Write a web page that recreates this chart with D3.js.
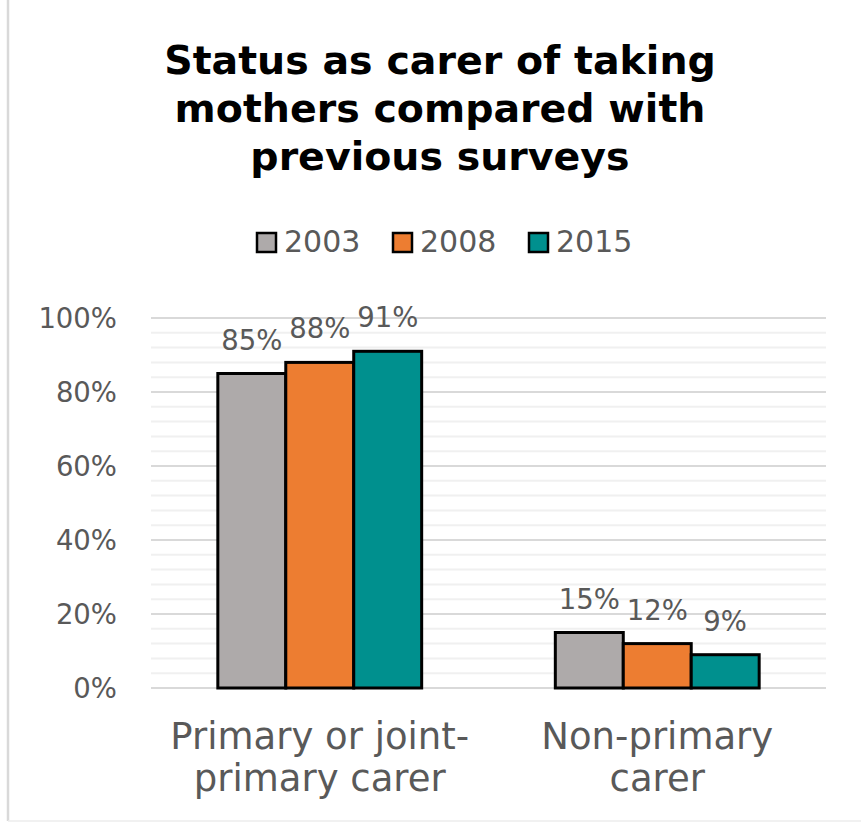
<!DOCTYPE html>
<html>
<head>
<meta charset="utf-8">
<script src="https://cdn.jsdelivr.net/npm/d3@7"></script>
<style>
  body { margin: 0; background: #fff; }
  svg { display: block; font-family: "DejaVu Sans", Verdana, sans-serif; }
</style>
</head>
<body>
<div id="chart"></div>
<script>
// data
const categories = [["Primary or joint-", "primary carer"], ["Non-primary", "carer"]]
const years = ["2003", "2008", "2015"]
const colors = ["#aeaaaa", "#ed7d31", "#00908e"]
const values = [
  [0.85, 0.88, 0.91],   // primary or joint-primary
  [0.15, 0.12, 0.09]    // non-primary
]
const yTicks = [0, 0.2, 0.4, 0.6, 0.8, 1]
const titleLines = ["Status as carer of taking", "mothers compared with", "previous surveys"]

const W = 861, H = 825
const svg = d3.select("#chart").append("svg").attr("width", W).attr("height", H)

// chart area frame (left and bottom edges visible)
svg.append("line").attr("x1", 8).attr("x2", 8).attr("y1", 0).attr("y2", 821)
   .attr("stroke", "#d9d9d9").attr("stroke-width", 2.5)
svg.append("line").attr("x1", 8).attr("x2", W).attr("y1", 821).attr("y2", 821)
   .attr("stroke", "#ececec").attr("stroke-width", 1.5)

// title
svg.append("text").attr("x", 440).attr("y", 74)
   .attr("text-anchor", "middle").attr("font-weight", "bold").attr("font-size", 39.5).attr("fill", "#000")
   .selectAll("tspan").data(titleLines).join("tspan")
   .attr("x", 440).attr("dy", (d, i) => i ? 48 : 0).text(d => d)

// legend
const leg = svg.append("g").attr("transform", "translate(257,0)")
const item = leg.selectAll("g").data(years).join("g").attr("transform", (d, i) => `translate(${i * 136},0)`)
item.append("rect").attr("x", 0).attr("y", 233).attr("width", 19).attr("height", 19)
    .attr("fill", (d, i) => colors[i]).attr("stroke", "#000").attr("stroke-width", 2.5)
item.append("text").attr("x", 27).attr("y", 252).attr("font-size", 30).attr("fill", "#595959").text(d => d)

// scales
const x0 = d3.scaleBand().domain(d3.range(categories.length)).range([151, 826]).paddingInner(0).paddingOuter(0)
const x1 = d3.scaleBand().domain(d3.range(years.length)).range([0, x0.bandwidth() * 0.604])
const y = d3.scaleLinear().domain([0, 1]).range([688, 318])

// gridlines: minor every 4%, major every 20%
const g = svg.append("g")
g.selectAll("line.minor").data(d3.range(0, 1.0001, 0.04).filter(v => Math.round(v * 100) % 20 !== 0))
 .join("line").attr("class", "minor")
 .attr("x1", 151).attr("x2", 826).attr("y1", d => y(d)).attr("y2", d => y(d))
 .attr("stroke", "#f0f0f0").attr("stroke-width", 2)
g.selectAll("line.major").data(yTicks).join("line").attr("class", "major")
 .attr("x1", 151).attr("x2", 826).attr("y1", d => y(d)).attr("y2", d => y(d))
 .attr("stroke", "#d9d9d9").attr("stroke-width", 2)

// y axis labels
const yAxis = svg.append("g").attr("transform", "translate(151,0)")
  .call(d3.axisLeft(y).tickValues(yTicks).tickFormat(d3.format(".0%")).tickSize(0).tickPadding(34))
yAxis.select(".domain").remove()
yAxis.selectAll("text").attr("font-size", 27.5).attr("fill", "#595959")
  .attr("font-family", "DejaVu Sans, Verdana, sans-serif").attr("dy", "0.36em")

// bars
const groups = svg.selectAll("g.grp").data(values).join("g").attr("class", "grp")
  .attr("transform", (d, i) => `translate(${x0(i) + x0.bandwidth() * 0.198},0)`)
groups.selectAll("rect").data(d => d).join("rect")
  .attr("x", (d, i) => x1(i)).attr("width", x1.bandwidth())
  .attr("y", d => y(d)).attr("height", d => y(0) - y(d))
  .attr("fill", (d, i) => colors[i]).attr("stroke", "#000").attr("stroke-width", 3)

// data labels
groups.selectAll("text").data(d => d).join("text")
  .attr("x", (d, i) => x1(i) + x1.bandwidth() / 2).attr("y", d => y(d) - 24)
  .attr("text-anchor", "middle").attr("font-size", 27.5).attr("fill", "#595959")
  .text(d => d3.format(".0%")(d))

// category labels
svg.selectAll("text.cat").data(categories).join("text").attr("class", "cat")
  .attr("text-anchor", "middle").attr("font-size", 37).attr("fill", "#595959")
  .attr("y", 749)
  .selectAll("tspan").data((d, i) => d.map(s => [s, i])).join("tspan")
  .attr("x", d => x0(d[1]) + x0.bandwidth() / 2).attr("dy", (d, j) => j ? 42 : 0).text(d => d[0])
</script>
</body>
</html>
